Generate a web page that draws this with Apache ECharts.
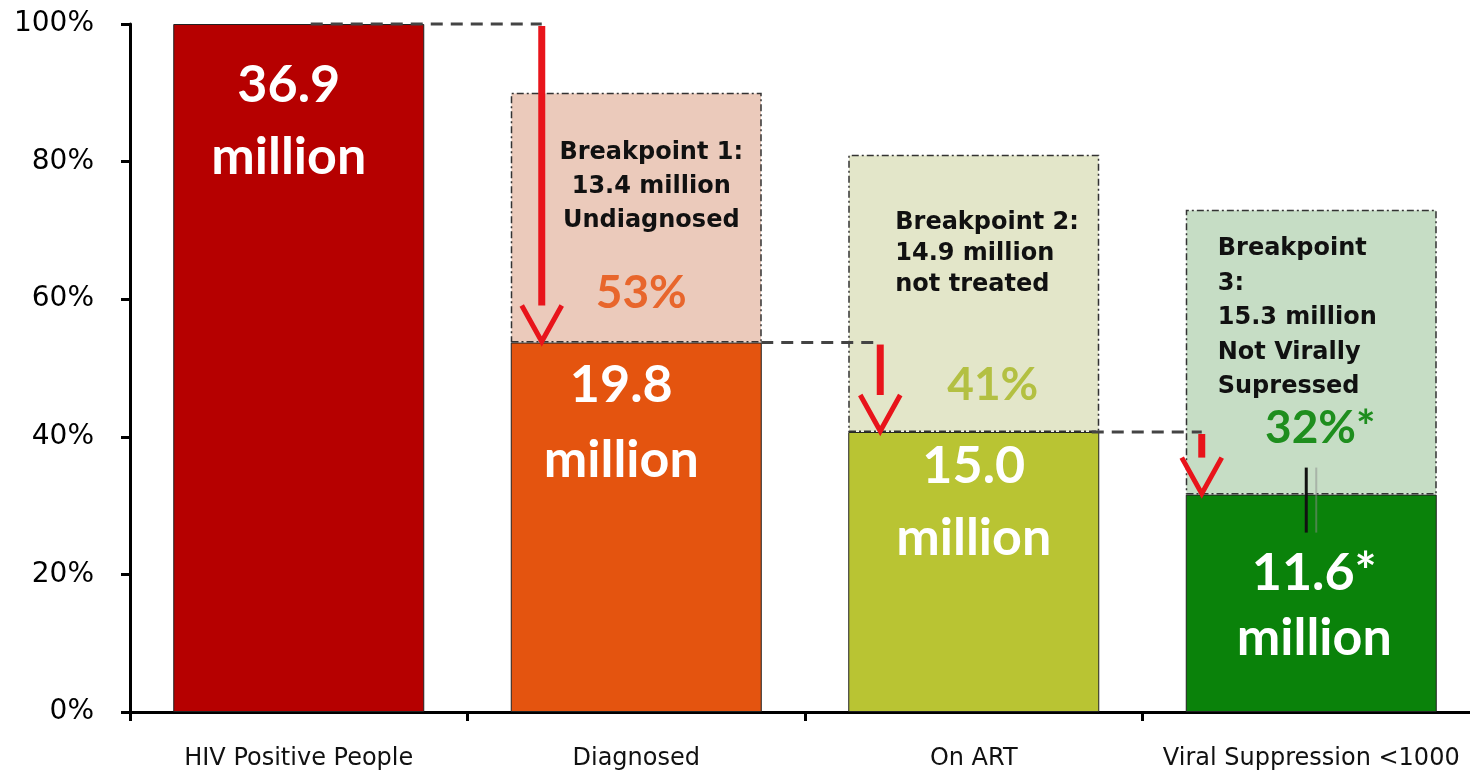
<!DOCTYPE html>
<html><head><meta charset="utf-8">
<script src="https://cdn.jsdelivr.net/npm/echarts@6/dist/echarts.min.js"></script>
<style>html,body{margin:0;padding:0;background:#fff}#c{width:1470px;height:772px}</style>
</head><body><div id="c"></div>
<script>
// ---- data ----
const categories = ['HIV Positive People', 'Diagnosed', 'On ART', 'Viral Suppression <1000'];
const barValues = [100, 53.7, 40.7, 31.6];
const boxTops = [null, 90, 81, 73];
const millionLabels = ['36.9\nmillion', '19.8\nmillion', '15.0\nmillion', '11.6*\nmillion'];
const percentLabels = [null, '53%', '41%', '32%*'];
const breakpointLabels = [null,
  'Breakpoint 1:\n13.4 million\nUndiagnosed',
  'Breakpoint 2:\n14.9 million\nnot treated',
  'Breakpoint\n3:\n15.3 million\nNot Virally\nSupressed'];
const yMin = 0, yMax = 100, yInterval = 20;

// ---- styles ----
const barColors = ['#B60000', '#E4540F', '#B9C433', '#0A820A'];
const boxColors = [null, '#EBCABB', '#E3E6C9', '#C6DDC5'];
const pctColors = [null, '#E8662C', '#B3C042', '#1E8E1E'];
const BAR_W = 251;
const millionLabelStyle = [
  {offset: [-10, 20], lineHeight: 72},
  {offset: [-15, 0], lineHeight: 75},
  {offset: [0, -7], lineHeight: 72},
  {offset: [3, 41], lineHeight: 65}
];
const boxLabelStyle = [null,
  {position: 'insideTop', align: 'center', offset: [15, 38], lineHeight: 34},
  {position: 'insideTopLeft', align: 'left', offset: [42, 48], lineHeight: 31},
  {position: 'insideTopLeft', align: 'left', offset: [27, 17], lineHeight: 34.5}
];
const arrowDx = [null, 31, 32, 16];      // arrow x from bar left edge
const dashStartDx = [null, 12, 125, 118]; // dashed line start from previous bar centre
const pctPos = [null, [5, -49], [19, -47], [9, -66]]; // from bar centre / top

const chart = echarts.init(document.getElementById('c'), null, {renderer: 'canvas'});

const baseData = barValues.map((v, i) => ({
  value: v,
  itemStyle: {color: barColors[i]},
  label: {
    show: true, formatter: millionLabels[i],
    offset: millionLabelStyle[i].offset, lineHeight: millionLabelStyle[i].lineHeight
  }
}));
const boxData = boxTops.map((t, i) => t == null ? null : ({
  value: t - barValues[i],
  itemStyle: {color: boxColors[i]},
  label: Object.assign({show: true, formatter: breakpointLabels[i]}, boxLabelStyle[i])
}));
const annoData = [];
for (let i = 1; i < barValues.length; i++) annoData.push([i, barValues[i - 1], barValues[i]]);

chart.setOption({
  animation: false,
  grid: {left: 130, top: 24, width: 1350, height: 688, containLabel: false, outerBoundsMode: 'none'},
  xAxis: {
    type: 'category', data: categories,
    axisLine: {lineStyle: {color: '#000', width: 3}},
    axisTick: {show: true, interval: 0, length: 9, lineStyle: {color: '#000', width: 3}},
    axisLabel: {interval: 0, color: '#111', fontFamily: 'DejaVu Sans', fontSize: 24, margin: 35}
  },
  yAxis: {
    type: 'value', min: yMin, max: yMax, interval: yInterval,
    splitLine: {show: false},
    axisLine: {show: true, lineStyle: {color: '#000', width: 3}},
    axisTick: {show: true, length: 9, lineStyle: {color: '#000', width: 3}},
    axisLabel: {formatter: '{value}%', color: '#000', fontFamily: 'DejaVu Sans', fontSize: 28, margin: 36}
  },
  series: [
    {
      type: 'bar', stack: 's', barWidth: BAR_W, data: baseData,
      itemStyle: {borderColor: '#222', borderWidth: 1},
      label: {position: 'insideTop', color: '#fff', fontFamily: 'Lato', fontWeight: 'bold', fontSize: 52, align: 'center'},
      z: 2
    },
    {
      type: 'bar', stack: 's', barWidth: BAR_W, data: boxData,
      itemStyle: {borderColor: '#333', borderWidth: 1.5, borderType: [7, 3, 2, 3]},
      label: {color: '#111', fontFamily: 'DejaVu Sans', fontWeight: 'bold', fontSize: 24},
      z: 1
    },
    {
      type: 'custom', data: annoData, z: 5,
      renderItem: function (params, api) {
        const i = api.value(0);
        const prev = api.value(1), cur = api.value(2);
        const c = api.coord([i, cur]);
        const p = api.coord([i - 1, prev]);
        const cx = c[0], tip = c[1], yPrev = p[1];
        const ax = cx - BAR_W / 2 + arrowDx[i];
        const children = [
          {type: 'line', shape: {x1: p[0] + dashStartDx[i], y1: yPrev, x2: ax, y2: yPrev},
            style: {stroke: '#444', lineWidth: 3, lineDash: [12, 8]}},
          {type: 'line', shape: {x1: ax, y1: yPrev + 2, x2: ax, y2: tip - 37},
            style: {stroke: '#E8141B', lineWidth: 7}},
          {type: 'polyline', shape: {points: [[ax - 20, tip - 37], [ax, tip - 1], [ax + 20, tip - 37]]},
            style: {stroke: '#E8141B', lineWidth: 5, fill: null}},
          {type: 'text', style: {text: percentLabels[i], x: cx + pctPos[i][0], y: tip + pctPos[i][1],
            fill: pctColors[i], font: 'bold 46px Lato', align: 'center', verticalAlign: 'middle'}}
        ];
        if (i === 3) {
          children.push({type: 'line', shape: {x1: cx - 5, y1: tip - 27, x2: cx - 5, y2: tip + 38},
            style: {stroke: '#111', lineWidth: 3}});
          children.push({type: 'line', shape: {x1: cx + 5, y1: tip - 27, x2: cx + 5, y2: tip + 38},
            style: {stroke: 'rgba(140,140,140,0.5)', lineWidth: 2}});
        }
        return {type: 'group', children: children};
      }
    }
  ]
});
</script></body></html>
